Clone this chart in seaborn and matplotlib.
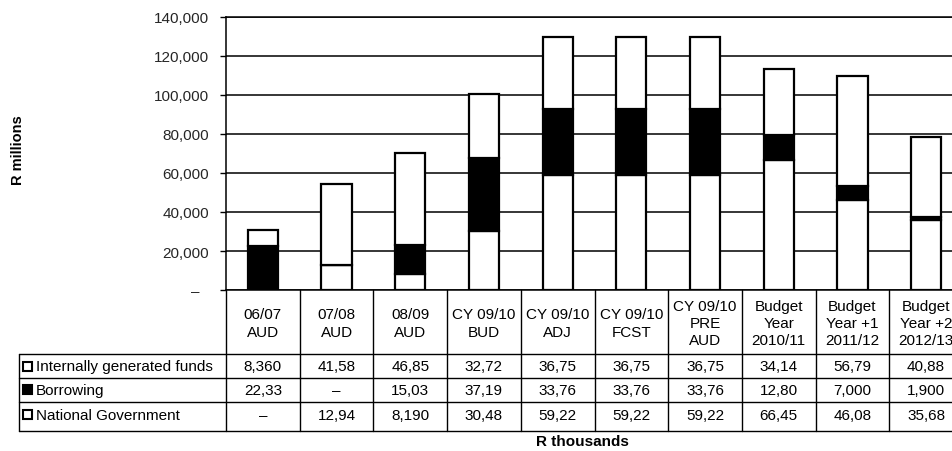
import numpy as np
import pandas as pd
import matplotlib
matplotlib.use("Agg")
import matplotlib.pyplot as plt
from matplotlib.patches import Rectangle
from matplotlib.transforms import ScaledTranslation
import seaborn as sns

# ---- data (R thousands) -------------------------------------------------
periods = [
    "06/07\nAUD", "07/08\nAUD", "08/09\nAUD", "CY 09/10\nBUD", "CY 09/10\nADJ",
    "CY 09/10\nFCST", "CY 09/10\nPRE\nAUD", "Budget\nYear\n2010/11",
    "Budget\nYear +1\n2011/12", "Budget\nYear +2\n2012/13",
]
internal = [8360, 41580, 46850, 32720, 36750, 36750, 36750, 34140, 56790, 40880]
borrowing = [22330, 0, 15030, 37190, 33760, 33760, 33760, 12800, 7000, 1900]
national = [0, 12940, 8190, 30480, 59220, 59220, 59220, 66450, 46080, 35680]

internal_txt = ["8,360", "41,58", "46,85", "32,72", "36,75", "36,75", "36,75", "34,14", "56,79", "40,88"]
borrowing_txt = ["22,33", "–", "15,03", "37,19", "33,76", "33,76", "33,76", "12,80", "7,000", "1,900"]
national_txt = ["–", "12,94", "8,190", "30,48", "59,22", "59,22", "59,22", "66,45", "46,08", "35,68"]

series_names = ["Internally generated funds", "Borrowing", "National Government"]
y_ticks = [0, 20000, 40000, 60000, 80000, 100000, 120000, 140000]

# ---- style ---------------------------------------------------------------
sns.set_theme(style="white")
plt.rcParams["font.family"] = ["Liberation Sans", "DejaVu Sans"]
plt.rcParams["text.color"] = "black"
FS = 11

W, H = 952, 452
fig = plt.figure(figsize=(W / 100, H / 100), dpi=100)

# plot area in pixels (extends past the right edge of the canvas)
x0, x1, y_top, y_base = 226, 963, 18, 291
ax = fig.add_axes([x0 / W, (H - y_base) / H, (x1 - x0) / W, (y_base - y_top) / H])

df = pd.DataFrame({
    "period": periods,
    "national": national,
    "borrowing": borrowing,
    "internal": internal,
})

bottom = np.zeros(len(periods))
for col, colr in [("national", "white"), ("borrowing", "black"), ("internal", "white")]:
    sns.barplot(data=df, x="period", y=col, bottom=bottom, color=colr,
                saturation=1, edgecolor="black", linewidth=1.6, width=0.41,
                errorbar=None, ax=ax, zorder=3)
    bottom = bottom + df[col].to_numpy()

ax.set_xlim(-0.5, len(periods) - 0.5)
ax.set_ylim(0, 140000)
ax.set_xlabel("")
ax.set_ylabel("")
ax.set_xticks([])
ax.set_yticks(y_ticks)
ax.set_yticklabels(["–" if v == 0 else f"{v:,}" for v in y_ticks], fontsize=FS)
ax.tick_params(axis="y", length=4, width=1, color="black", pad=8, left=True)
lab0 = ax.get_yticklabels()[0]
lab0.set_transform(lab0.get_transform() + ScaledTranslation(-7 / 72, 0, fig.dpi_scale_trans))

ax.grid(axis="y", color="black", linewidth=1.1)
ax.set_axisbelow(True)
for side in ["left", "bottom", "top"]:
    ax.spines[side].set_visible(True)
    ax.spines[side].set_color("black")
    ax.spines[side].set_linewidth(1.1)
ax.spines["right"].set_visible(False)

fig.text(18 / W, 1 - 150 / H, "R millions", rotation=90, ha="center", va="center",
         fontsize=10.5, fontweight="bold")

# ---- data table below the chart -------------------------------------------
tab = fig.add_axes([x0 / W, 0, (x1 - x0) / W, (H - y_base) / H])
tab.set_xlim(-0.5, len(periods) - 0.5)
tab.set_ylim(H, y_base)
tab.axis("off")

upx = (x1 - x0) / len(periods)          # pixels per category
x_lab = -0.5 - (x0 - 19) / upx          # left edge of the row-label column
row_lines = [355, 379, 403, 432]
row_centers = [367, 391, 416]
line_kw = dict(color="black", linewidth=1.0, clip_on=False)

for yl in row_lines:
    tab.plot([x_lab, len(periods) - 0.5], [yl, yl], **line_kw)
for i in range(len(periods) + 1):
    tab.plot([i - 0.5, i - 0.5], [y_base, row_lines[-1]], **line_kw)
tab.plot([x_lab, x_lab], [row_lines[0], row_lines[-1]], **line_kw)

for i, lbl in enumerate(periods):
    tab.text(i, 324, lbl, ha="center", va="center", fontsize=FS, linespacing=1.3,
             clip_on=False)

key_fill = ["white", "black", "white"]
for r, (name, texts) in enumerate(zip(series_names, [internal_txt, borrowing_txt, national_txt])):
    yc = row_centers[r]
    tab.add_patch(Rectangle((x_lab + 4 / upx, yc - 4.5), 9 / upx, 9,
                            facecolor=key_fill[r], edgecolor="black", linewidth=1.5,
                            clip_on=False))
    tab.text(x_lab + 17 / upx, yc, name, ha="left", va="center", fontsize=FS, clip_on=False)
    for i, t in enumerate(texts):
        tab.text(i, yc, t, ha="center", va="center", fontsize=FS, clip_on=False)

fig.text(582 / W, 1 - 442 / H, "R thousands", ha="center", va="center",
         fontsize=FS, fontweight="bold")

fig.savefig("out.png", dpi=100)
